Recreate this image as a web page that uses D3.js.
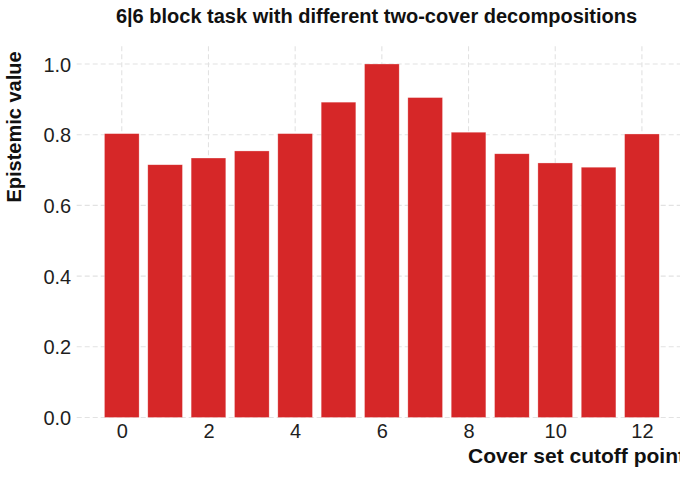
<!DOCTYPE html>
<html>
<head>
<meta charset="utf-8">
<script src="https://cdn.jsdelivr.net/npm/d3@7"></script>
<style>
  html, body { margin: 0; padding: 0; background: #fff; }
  svg { display: block; }
  text { font-family: "Liberation Sans", Arial, Helvetica, sans-serif; }
</style>
</head>
<body>
<svg id="chart" width="680" height="481"></svg>
<script>
const titleText = "6|6 block task with different two-cover decompositions";
const xLabel = "Cover set cutoff point";
const yLabel = "Epistemic value";
const cutoffs = [0, 1, 2, 3, 4, 5, 6, 7, 8, 9, 10, 11, 12];
const values = [0.803, 0.715, 0.734, 0.754, 0.803, 0.892, 1.0, 0.905, 0.807, 0.746, 0.720, 0.708, 0.802];
const xTicks = [0, 2, 4, 6, 8, 10, 12];
const yTicks = [0, 0.2, 0.4, 0.6, 0.8, 1.0];

const svg = d3.select("#chart");
const panel = { left: 76.7, right: 687, top: 46.3, bottom: 417.5 };

const x = d3.scaleLinear().domain([-1.04, 13.04]).range([panel.left, panel.right]);
const y = d3.scaleLinear().domain([0, 1.05]).range([panel.bottom, panel.top]);
const barW = x(0.8) - x(0);

// grid
const grid = svg.append("g");
grid.selectAll("line.h").data(yTicks).join("line")
  .attr("x1", panel.left).attr("x2", panel.right)
  .attr("y1", d => y(d)).attr("y2", d => y(d))
  .attr("stroke", "#e2e2e2").attr("stroke-width", 1.1)
  .attr("stroke-dasharray", "5,3");
grid.selectAll("line.v").data(xTicks).join("line")
  .attr("y1", panel.top).attr("y2", panel.bottom)
  .attr("x1", d => x(d)).attr("x2", d => x(d))
  .attr("stroke", "#e2e2e2").attr("stroke-width", 1.1)
  .attr("stroke-dasharray", "5,3");

// bars
svg.append("g").selectAll("rect").data(cutoffs).join("rect")
  .attr("x", (d) => x(d) - barW / 2)
  .attr("width", barW)
  .attr("y", (d, i) => y(values[i]))
  .attr("height", (d, i) => y(0) - y(values[i]))
  .attr("fill", "#D62728")
  .attr("stroke", "#ffffff").attr("stroke-opacity", 0.5).attr("stroke-width", 0.6);

// axes (text only, no lines)
const xAxis = d3.axisBottom(x).tickValues(xTicks).tickFormat(d3.format("d")).tickSize(0).tickPadding(0);
const gx = svg.append("g").attr("transform", `translate(0,${panel.bottom})`).call(xAxis);
gx.select(".domain").remove();
gx.selectAll("text").attr("font-size", 20).attr("fill", "#1e1e1e")
  .attr("font-family", "'Liberation Sans', Arial, sans-serif")
  .attr("dy", null).attr("y", 20);

const yAxis = d3.axisLeft(y).tickValues(yTicks).tickFormat(d3.format(".1f")).tickSize(0).tickPadding(0);
const gy = svg.append("g").attr("transform", `translate(${panel.left - 5.5},0)`).call(yAxis);
gy.select(".domain").remove();
gy.selectAll("text").attr("font-size", 20).attr("fill", "#1e1e1e")
  .attr("font-family", "'Liberation Sans', Arial, sans-serif")
  .attr("dy", "0.36em");

// title
svg.append("text").attr("x", 376.5).attr("y", 23)
  .attr("text-anchor", "middle").attr("font-size", 20).attr("font-weight", "bold")
  .attr("fill", "#111").text(titleText);

// y label
svg.append("text").attr("transform", "translate(21,127) rotate(-90)")
  .attr("text-anchor", "middle").attr("font-size", 20).attr("font-weight", "bold")
  .attr("fill", "#111").text(yLabel);

// x label (cut off at the right edge, as in the reference)
svg.append("text").attr("x", 468).attr("y", 463)
  .attr("text-anchor", "start").attr("font-size", 21).attr("font-weight", "bold")
  .attr("fill", "#111").text(xLabel);
</script>
</body>
</html>
